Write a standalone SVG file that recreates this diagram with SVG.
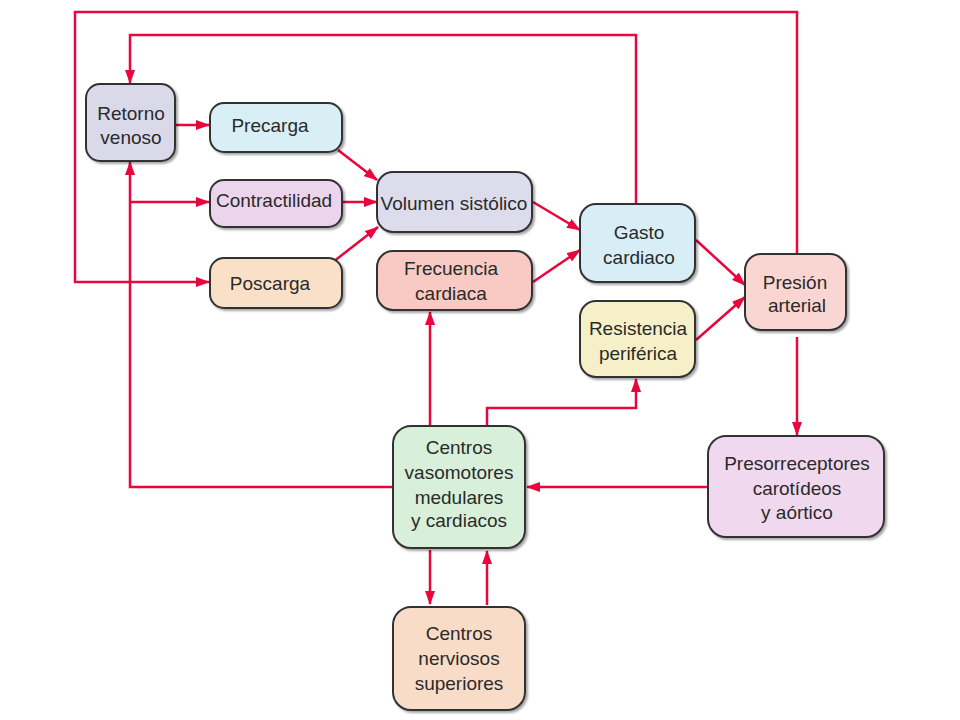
<svg xmlns="http://www.w3.org/2000/svg" width="960" height="720" viewBox="0 0 960 720">
<defs>
<marker id="ah" markerWidth="14" markerHeight="10" refX="13" refY="5" orient="auto" markerUnits="userSpaceOnUse">
<path d="M0,0 L14,5 L0,10 Z" fill="#e8063c"/>
</marker>
<filter id="sh" x="-10%" y="-10%" width="125%" height="130%">
<feDropShadow dx="2" dy="2" stdDeviation="1.2" flood-color="#000" flood-opacity="0.35"/>
</filter>
<style>
.b{stroke:#333;stroke-width:2;filter:url(#sh)}
.t{font-family:"Liberation Sans",Arial,sans-serif;font-size:19px;fill:#2a2a2a;text-anchor:middle}
.c{fill:none;stroke:#e8063c;stroke-width:2.5}
.a{marker-end:url(#ah)}
</style>
</defs>
<rect width="960" height="720" fill="#fff"/>
<g id="connectors">
<polyline class="c a" points="797,253 797,12 75,12 75,282 209,282"/>
<polyline class="c a" points="636,204 636,35 130,35 130,83"/>
<line class="c a" x1="176" y1="125" x2="209" y2="125"/>
<polyline class="c a" points="395,487 130,487 130,162"/>
<line class="c a" x1="130" y1="202" x2="209" y2="202"/>
<line class="c a" x1="338" y1="150" x2="377" y2="180"/>
<line class="c a" x1="343" y1="202" x2="377" y2="202"/>
<line class="c a" x1="333" y1="262" x2="378" y2="227"/>
<line class="c a" x1="533" y1="202" x2="580" y2="230"/>
<line class="c a" x1="533" y1="282" x2="580" y2="250"/>
<line class="c a" x1="696" y1="240" x2="745" y2="285"/>
<line class="c a" x1="696" y1="340" x2="745" y2="297"/>
<line class="c a" x1="797" y1="337" x2="797" y2="435"/>
<line class="c a" x1="708" y1="487" x2="527" y2="487"/>
<line class="c a" x1="430" y1="426" x2="430" y2="312"/>
<polyline class="c a" points="487,426 487,408 636,408 636,379"/>
<line class="c a" x1="430" y1="550" x2="430" y2="604"/>
<line class="c a" x1="487" y1="605" x2="487" y2="551"/>
</g>
<g id="retorno"><rect class="b" x="86" y="84" width="89" height="77" rx="14" fill="#d9d9ea"/><text class="t" x="131" y="120">Retorno</text><text class="t" x="131" y="144">venoso</text></g>
<g id="precarga"><rect class="b" x="210" y="103" width="132" height="49" rx="14" fill="#d8eff5"/><text class="t" x="270" y="132">Precarga</text></g>
<g id="contractilidad"><rect class="b" x="210" y="180" width="132" height="47" rx="14" fill="#ecd5ec"/><text class="t" x="274" y="207">Contractilidad</text></g>
<g id="poscarga"><rect class="b" x="210" y="258" width="132" height="50" rx="14" fill="#fbe0c8"/><text class="t" x="270" y="290">Poscarga</text></g>
<g id="volumen"><rect class="b" x="377" y="172" width="155" height="60" rx="16" fill="#dcdcec"/><text class="t" x="454" y="210">Volumen sistólico</text></g>
<g id="frecuencia"><rect class="b" x="377" y="251" width="155" height="59" rx="16" fill="#f9c9c4"/><text class="t" x="451" y="275">Frecuencia</text><text class="t" x="451" y="300">cardiaca</text></g>
<g id="gasto"><rect class="b" x="580" y="204" width="115" height="78" rx="16" fill="#d8eef6"/><text class="t" x="639" y="239">Gasto</text><text class="t" x="639" y="264">cardiaco</text></g>
<g id="resistencia"><rect class="b" x="580" y="301" width="115" height="76" rx="16" fill="#f5f0c8"/><text class="t" x="638" y="335">Resistencia</text><text class="t" x="638" y="360">periférica</text></g>
<g id="presion"><rect class="b" x="745" y="254" width="101" height="76" rx="16" fill="#fad6d2"/><text class="t" x="795" y="289">Presión</text><text class="t" x="797" y="312">arterial</text></g>
<g id="presorreceptores"><rect class="b" x="708" y="436" width="176" height="101" rx="18" fill="#f0d8ee"/><text class="t" x="797" y="470">Presorreceptores</text><text class="t" x="797" y="495">carotídeos</text><text class="t" x="797" y="519">y aórtico</text></g>
<g id="vasomotores"><rect class="b" x="393" y="426" width="132" height="122" rx="18" fill="#d8efd9"/><text class="t" x="459" y="454">Centros</text><text class="t" x="459" y="479">vasomotores</text><text class="t" x="459" y="504">medulares</text><text class="t" x="459" y="527">y cardiacos</text></g>
<g id="nerviosos"><rect class="b" x="393" y="607" width="132" height="103" rx="18" fill="#f9dcc8"/><text class="t" x="459" y="640">Centros</text><text class="t" x="459" y="665">nerviosos</text><text class="t" x="459" y="690">superiores</text></g>
</svg>
